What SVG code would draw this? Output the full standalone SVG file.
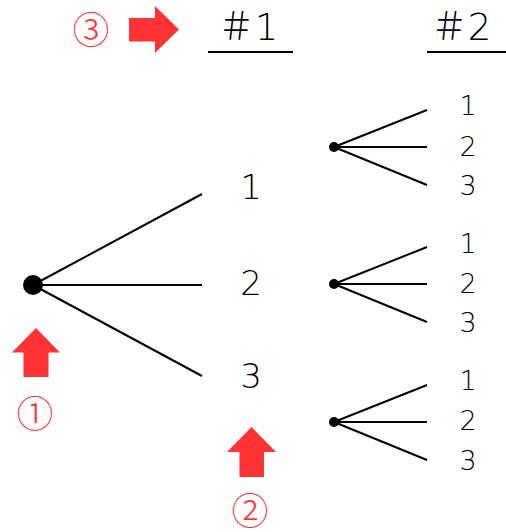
<svg xmlns="http://www.w3.org/2000/svg" width="506" height="532" viewBox="0 0 506 532">
  <style>
    .edge { stroke: #000; stroke-width: 2; fill: none; }
    .dot { fill: #000; }
    .lbl { font-family: "DejaVu Sans", "Noto Sans CJK JP", sans-serif; font-weight: 200; fill: #000; text-anchor: middle; }
    .main { font-size: 34px; }
    .sub { font-size: 27px; }
    .head { font-size: 37px; }
    .arrow { fill: #ff3333; }
    .num { font-family: "Noto Sans CJK JP", "DejaVu Sans", sans-serif; font-weight: 300; font-size: 37px; fill: #ff3333; text-anchor: middle; dominant-baseline: central; }
  </style>
  <rect width="506" height="532" fill="#fff"/>

  <!-- column headings -->
  <g id="heading-1">
    <text class="lbl head" x="248" y="40">＃1</text>
    <line class="edge" x1="208" y1="52" x2="293" y2="52"/>
  </g>
  <g id="heading-2">
    <text class="lbl head" x="461" y="40">＃2</text>
    <line class="edge" x1="427" y1="52" x2="506" y2="52"/>
  </g>

  <!-- branches -->
  <g id="connectors">
    <line class="edge" x1="33" y1="285" x2="202" y2="194"/>
    <line class="edge" x1="33" y1="285" x2="202" y2="285"/>
    <line class="edge" x1="33" y1="285" x2="202" y2="376"/>

    <line class="edge" x1="334" y1="147" x2="427" y2="110"/>
    <line class="edge" x1="334" y1="147" x2="427" y2="147"/>
    <line class="edge" x1="334" y1="147" x2="427" y2="185"/>

    <line class="edge" x1="334" y1="284" x2="427" y2="247"/>
    <line class="edge" x1="334" y1="284" x2="427" y2="284"/>
    <line class="edge" x1="334" y1="284" x2="427" y2="322"/>

    <line class="edge" x1="334" y1="422" x2="427" y2="385"/>
    <line class="edge" x1="334" y1="422" x2="427" y2="422"/>
    <line class="edge" x1="334" y1="422" x2="427" y2="460"/>
  </g>

  <!-- root -->
  <g id="root">
    <circle class="dot" cx="33" cy="285" r="10"/>
  </g>

  <!-- first draw -->
  <g id="first-1"><text class="lbl main" x="251" y="199">1</text></g>
  <g id="first-2"><text class="lbl main" x="251" y="295">2</text></g>
  <g id="first-3"><text class="lbl main" x="251" y="388">3</text></g>

  <!-- second draw -->
  <g id="branch-1">
    <circle class="dot" cx="334" cy="147" r="5"/>
    <text class="lbl sub" x="468" y="115">1</text>
    <text class="lbl sub" x="468" y="156">2</text>
    <text class="lbl sub" x="468" y="195">3</text>
  </g>
  <g id="branch-2">
    <circle class="dot" cx="334" cy="284" r="5"/>
    <text class="lbl sub" x="468" y="253">1</text>
    <text class="lbl sub" x="468" y="293">2</text>
    <text class="lbl sub" x="468" y="332">3</text>
  </g>
  <g id="branch-3">
    <circle class="dot" cx="334" cy="422" r="5"/>
    <text class="lbl sub" x="468" y="390">1</text>
    <text class="lbl sub" x="468" y="430">2</text>
    <text class="lbl sub" x="468" y="470">3</text>
  </g>

  <!-- step markers -->
  <g id="step-1">
    <polygon class="arrow" points="36,328 60,352.5 48.5,352.5 48.5,377 23.5,377 23.5,352.5 12,352.5"/>
    <text class="num" x="35" y="412">①</text>
  </g>
  <g id="step-2">
    <polygon class="arrow" points="251.5,427 276,452 264,452 264,477 239.5,477 239.5,452 227,452"/>
    <text class="num" x="250" y="509">②</text>
  </g>
  <g id="step-3">
    <polygon class="arrow" points="129,18 155,18 155,6 179,29.5 155,53 155,41.5 129,41.5"/>
    <text class="num" x="91" y="28">③</text>
  </g>
</svg>
